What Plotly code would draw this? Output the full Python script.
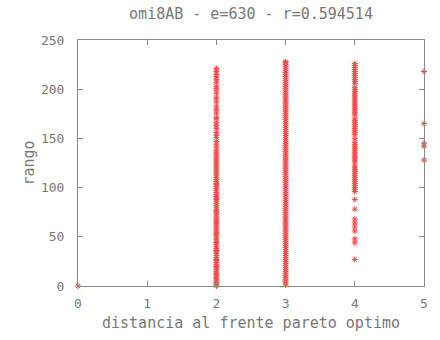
import plotly.graph_objects as go

title_text = "omi8AB - e=630 - r=0.594514"
x_label = "distancia al frente pareto optimo"
y_label = "rango"

rango_d0 = [0]
rango_d2 = [0, 2, 3, 5, 7, 8, 10, 12, 13, 15, 17, 19, 20, 22, 24, 26, 27, 29, 31, 33, 35, 36, 38, 40,
            42, 44, 45, 47, 49, 51, 53, 54, 56, 58, 60, 62, 64, 65, 67, 69, 71, 73, 75, 76, 78, 80,
            82, 84, 86, 88, 89, 91, 93, 95, 97, 99, 101, 103, 104, 106, 108, 110, 112, 114, 116, 118,
            120, 122, 124, 126, 128, 130, 132, 134, 136, 138,
            141, 144, 147, 151, 153, 156, 160, 163, 166, 170, 171, 175, 178, 180, 183, 187, 190, 192,
            196, 199, 201, 203, 207, 210, 213, 215, 218, 221]
rango_d3 = [1, 3, 5, 7, 9, 11, 13, 15, 17, 19, 21, 23, 25, 27, 29, 31, 33, 35, 37, 39, 41, 43, 45, 47,
            49, 51, 53, 55, 57, 59, 61, 63, 65, 67, 69, 71, 73, 75, 77, 79, 81, 83, 85, 87, 89, 91,
            93, 95, 97, 99, 101, 103, 105, 107, 109, 111, 113, 115, 117, 119, 121, 123, 125, 127, 129,
            131, 133, 135, 137, 139, 141, 143, 145, 147, 149, 151, 153, 155, 157, 159, 161, 163, 165,
            167, 169, 171, 173, 175, 177, 179, 181, 183, 185, 187, 189, 191, 193, 195, 197, 199, 201,
            203, 205, 207, 209, 211, 213, 215, 217, 219, 221, 223, 225, 227, 228]
rango_d4 = [226, 224, 222, 220, 218, 216, 214, 212, 210, 208, 206, 202, 200, 198, 196, 194, 192, 190,
            188, 186, 184, 182, 180, 178, 176, 174, 170, 168, 166, 164, 162, 160, 158, 156, 154, 150,
            146, 144, 142, 140, 138, 136, 134, 132, 130, 128, 126, 122, 120, 118, 116, 114, 112, 110,
            108, 106, 104, 102, 100, 98, 96, 88, 78, 68, 64, 60, 56, 48, 44, 27]
rango_d5 = [218, 165, 145, 142, 128]

groups = [(0, rango_d0), (2, rango_d2), (3, rango_d3), (4, rango_d4), (5, rango_d5)]
xs, ys = [], []
for d, vals in groups:
    xs += [d] * len(vals)
    ys += vals

font_family = "DejaVu Sans Mono"
axis_color = "#8a8a8a"
text_color = "#777777"

fig = go.Figure()
fig.add_trace(go.Scatter(
    x=xs, y=ys, mode="markers",
    marker=dict(symbol="asterisk-open", size=5, line=dict(color="#f04a4a", width=1), color="#f04a4a"),
    cliponaxis=False, showlegend=False,
))

axis_common = dict(
    showgrid=False, zeroline=False, showline=True, linecolor=axis_color, linewidth=1,
    mirror="ticks", ticks="inside", ticklen=5, tickcolor=axis_color,
    tickfont=dict(family=font_family, size=13, color=text_color),
)

fig.update_layout(
    width=440, height=340,
    margin=dict(l=78, r=13, t=40, b=52),
    paper_bgcolor="white", plot_bgcolor="white",
    title=dict(text=title_text, x=0.5, xref="paper", y=0.96, yanchor="middle",
               font=dict(family=font_family, size=15, color=text_color)),
    xaxis=dict(range=[0, 5], dtick=1, ticklabelstandoff=5,
               title=dict(text=x_label, standoff=7,
                          font=dict(family=font_family, size=15, color=text_color)), **axis_common),
    yaxis=dict(range=[0, 250], dtick=50, ticklabelstandoff=10,
               title=dict(text=y_label, standoff=2,
                          font=dict(family=font_family, size=15, color=text_color)), **axis_common),
)

fig.write_html("out.html")
